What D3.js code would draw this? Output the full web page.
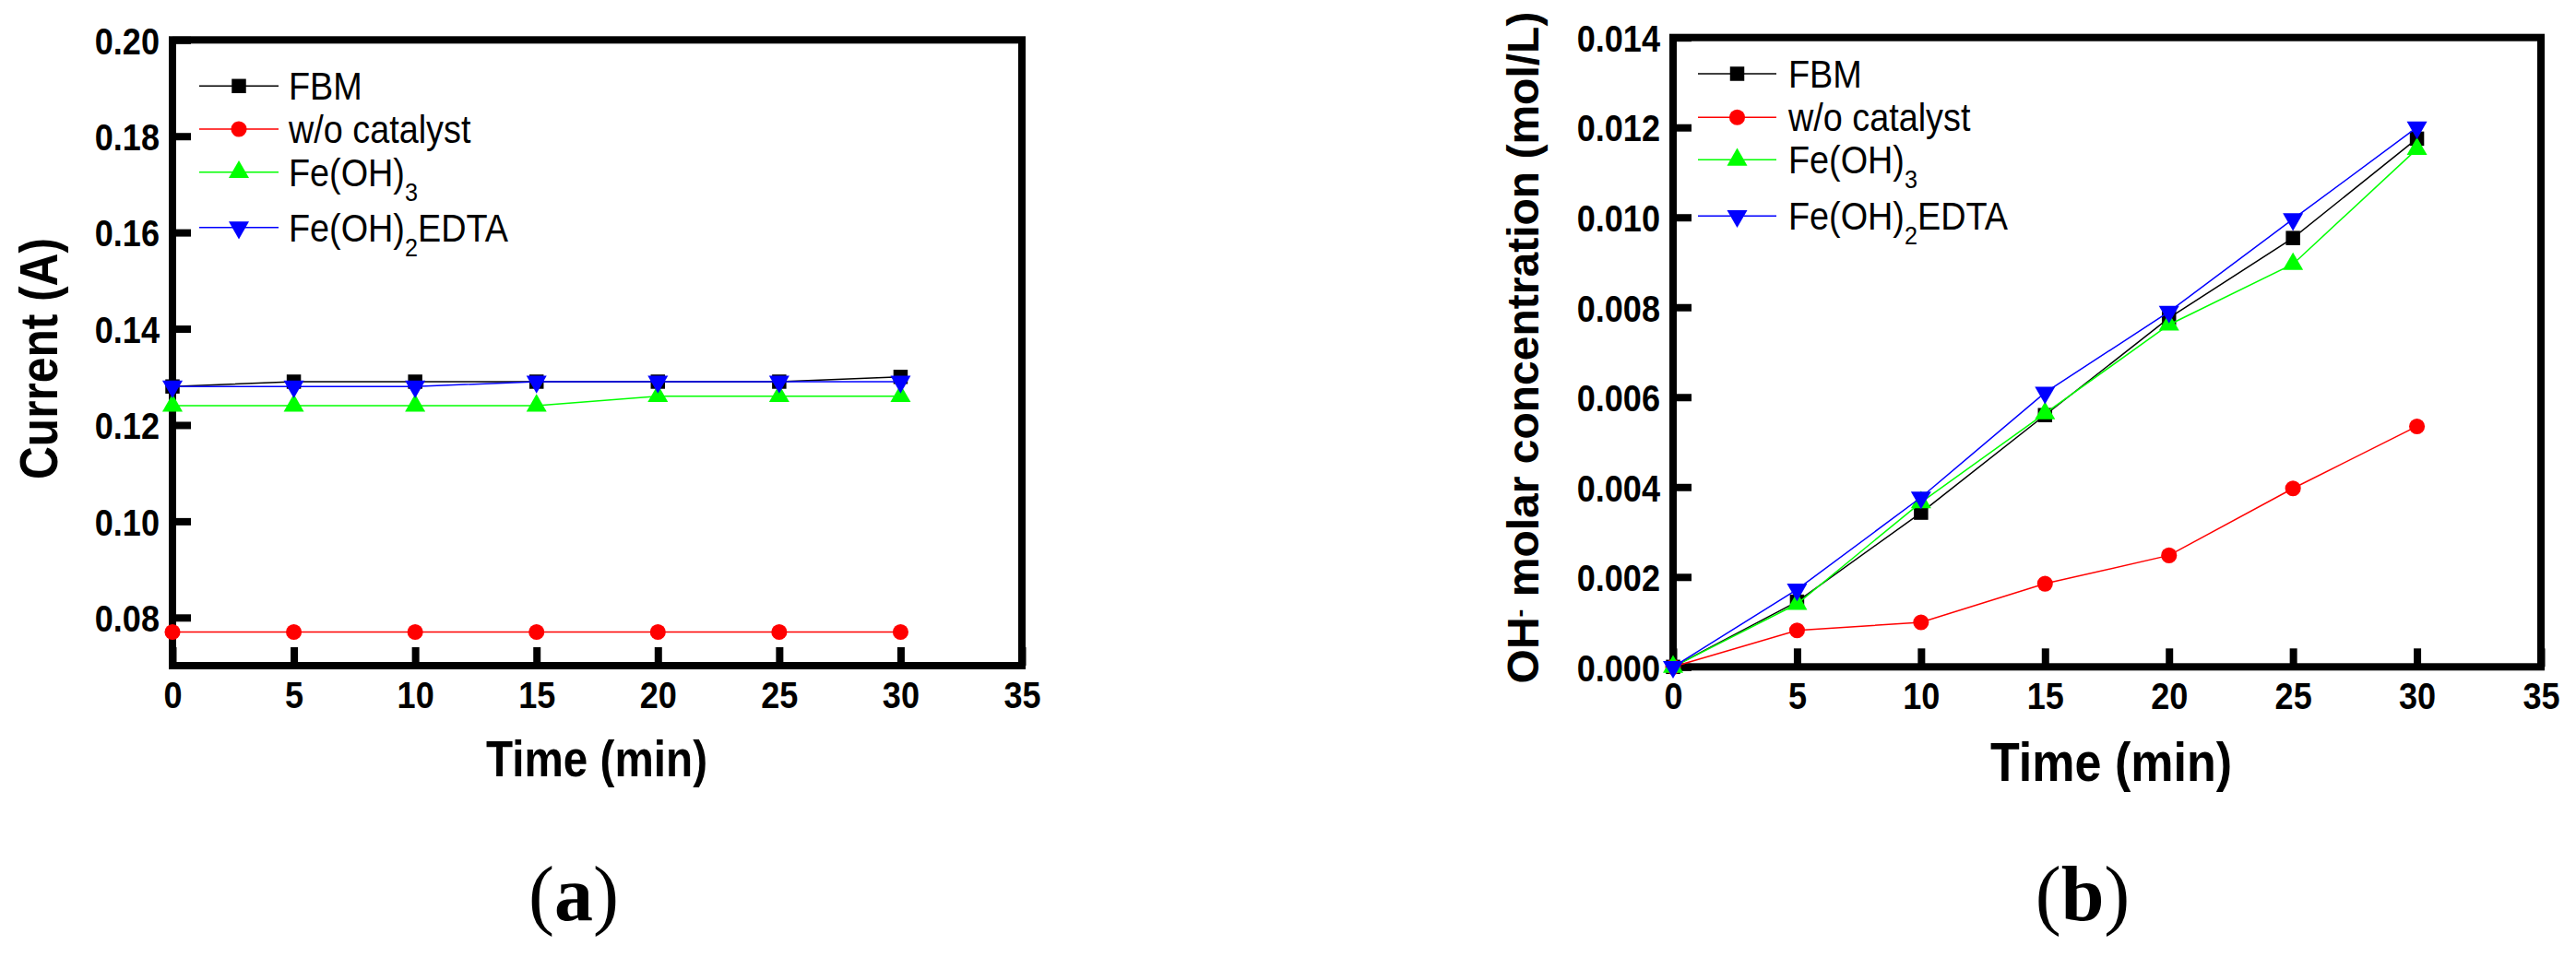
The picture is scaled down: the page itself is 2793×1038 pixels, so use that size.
<!DOCTYPE html>
<html>
<head>
<meta charset="utf-8">
<script src="https://cdn.jsdelivr.net/npm/d3@7"></script>
<style>
  body { margin: 0; background: #fff; }
  text { font-family: "Liberation Sans", Arial, sans-serif; }
</style>
</head>
<body>
<svg id="chart" width="2793" height="1038"></svg>
<script>
'use strict';

/***** DATA *****/
const TIME = [0, 5, 10, 15, 20, 25, 30];
const X_TICKS = [0, 5, 10, 15, 20, 25, 30, 35];
const SERIES_LABELS = ['FBM', 'w/o catalyst', 'Fe(OH)_3', 'Fe(OH)_2EDTA'];
const SERIES_COLORS = ['#000000', '#ff0000', '#00ff00', '#0000ff'];

// (a) current, A
const CURRENT_FBM   = [0.128, 0.129, 0.129, 0.129, 0.129, 0.129, 0.130];
const CURRENT_WO    = [0.077, 0.077, 0.077, 0.077, 0.077, 0.077, 0.077];
const CURRENT_FEOH3 = [0.124, 0.124, 0.124, 0.124, 0.126, 0.126, 0.126];
const CURRENT_EDTA  = [0.128, 0.128, 0.128, 0.129, 0.129, 0.129, 0.129];
const CURRENT_TICKS = [0.08, 0.10, 0.12, 0.14, 0.16, 0.18, 0.20];

// (b) OH- molar concentration, mol/L
const OH_FBM   = [0, 0.00145, 0.00343, 0.00560, 0.00776, 0.00954, 0.01175];
const OH_WO    = [0, 0.00081, 0.00099, 0.00185, 0.00248, 0.00397, 0.00535];
const OH_FEOH3 = [0, 0.00140, 0.00366, 0.00564, 0.00761, 0.00896, 0.01152];
const OH_EDTA  = [0, 0.00172, 0.00377, 0.00610, 0.00790, 0.00996, 0.01200];
const OH_TICKS = [0, 0.002, 0.004, 0.006, 0.008, 0.010, 0.012, 0.014];

/***** CHART *****/
const svg = d3.select('#chart');

const SYMBOLS = [
  d3.symbol().type(d3.symbolSquare).size(240),
  d3.symbol().type(d3.symbolCircle).size(230),
  d3.symbol().type(d3.symbolTriangle).size(210),
  d3.symbol().type(d3.symbolTriangle).size(210)
];
const ROTATE = [0, 0, 0, 180];

function labelParts(label) {
  // "Fe(OH)_2EDTA" -> [["Fe(OH)", false], ["2", true], ["EDTA", false]]
  const m = label.match(/^(.*?)_(\d)(.*)$/);
  if (!m) return [[label, false]];
  return [[m[1], false], [m[2], true], [m[3], false]].filter(p => p[0]);
}

// squeeze a single text node horizontally, like the narrow font of the original
function squeeze(sel, k) {
  sel.each(function() {
    const len = this.getComputedTextLength();
    d3.select(this).attr('textLength', len * k).attr('lengthAdjust', 'spacingAndGlyphs');
  });
}

function drawPanel(cfg) {
  const x = d3.scaleLinear().domain([0, 35]).range([cfg.left, cfg.right]);
  const y = d3.scaleLinear().domain(cfg.yDomain).range([cfg.bottom, cfg.top]);
  const g = svg.append('g');

  // axes with inward ticks
  const yAxis = g.append('g')
    .attr('transform', `translate(${cfg.left},0)`)
    .call(d3.axisLeft(y).tickValues(cfg.yTicks).tickFormat(d3.format(cfg.yFormat))
      .tickSizeInner(-20).tickSizeOuter(0).tickPadding(14));
  const xAxis = g.append('g')
    .attr('transform', `translate(0,${cfg.bottom})`)
    .call(d3.axisBottom(x).tickValues(X_TICKS)
      .tickSizeInner(-20).tickSizeOuter(0).tickPadding(30));

  [xAxis, yAxis].forEach(a => {
    a.select('.domain').remove();
    a.selectAll('.tick line').attr('stroke', '#000').attr('stroke-width', 8);
    a.selectAll('.tick text')
      .attr('fill', '#000')
      .style('font-size', '41px')
      .style('font-weight', 'bold')
      .call(squeeze, 0.88);
  });
  yAxis.selectAll('.tick text').attr('dy', '0.36em');
  xAxis.selectAll('.tick text').attr('y', 31).attr('dy', '0.36em');

  // frame
  g.append('rect')
    .attr('x', cfg.left).attr('y', cfg.top)
    .attr('width', cfg.right - cfg.left).attr('height', cfg.bottom - cfg.top)
    .attr('fill', 'none').attr('stroke', '#000').attr('stroke-width', 8);

  // series
  const line = d3.line().x((d, i) => x(TIME[i])).y(d => y(d));
  cfg.series.forEach((values, k) => {
    g.append('path')
      .attr('d', line(values))
      .attr('fill', 'none')
      .attr('stroke', SERIES_COLORS[k])
      .attr('stroke-width', 1.5);
    g.selectAll(null).data(values).enter().append('path')
      .attr('d', SYMBOLS[k])
      .attr('transform', (d, i) => `translate(${x(TIME[i])},${y(d)}) rotate(${ROTATE[k]})`)
      .attr('fill', SERIES_COLORS[k]);
  });

  // legend
  const lg = cfg.legend;
  SERIES_LABELS.forEach((label, k) => {
    const ry = lg.rows[k];
    g.append('line')
      .attr('x1', lg.x1).attr('x2', lg.x2).attr('y1', ry).attr('y2', ry)
      .attr('stroke', SERIES_COLORS[k]).attr('stroke-width', 1.5);
    g.append('path')
      .attr('d', SYMBOLS[k])
      .attr('transform', `translate(${(lg.x1 + lg.x2) / 2},${ry}) rotate(${ROTATE[k]})`)
      .attr('fill', SERIES_COLORS[k]);
    const t = g.append('text')
      .attr('transform', `translate(${lg.textX},${ry + 15}) scale(0.9,1)`)
      .style('font-size', '42px');
    let shifted = false;
    labelParts(label).forEach(([s, sub]) => {
      const ts = t.append('tspan').text(s);
      if (sub) {
        ts.attr('dy', 16).style('font-size', '28px');
        shifted = true;
      } else if (shifted) {
        ts.attr('dy', -16);
        shifted = false;
      }
    });
  });

  // x title
  g.append('text')
    .attr('x', cfg.xTitle.x).attr('y', cfg.xTitle.y)
    .attr('text-anchor', 'middle')
    .attr('textLength', cfg.xTitle.len).attr('lengthAdjust', 'spacingAndGlyphs')
    .style('font-size', cfg.xTitle.size + 'px').style('font-weight', 'bold')
    .text('Time (min)');

  // y title
  const yt = g.append('text')
    .attr('transform', `translate(${cfg.yTitle.x},${cfg.yTitle.y}) rotate(-90)`)
    .attr('text-anchor', 'middle')
    .style('font-size', cfg.yTitle.size + 'px').style('font-weight', 'bold');
  cfg.yTitle.parts.forEach(([s, sup]) => {
    const ts = yt.append('tspan').text(s);
    if (sup === 1) ts.attr('dy', '-0.45em').style('font-size', '0.55em');
    if (sup === -1) ts.attr('dy', '0.25em');
  });
  if (cfg.yTitle.len) yt.attr('textLength', cfg.yTitle.len).attr('lengthAdjust', 'spacingAndGlyphs');

  // panel label
  const pl = g.append('text')
    .attr('x', cfg.tag.x).attr('y', cfg.tag.y)
    .attr('text-anchor', 'middle')
    .style('font-family', '"Liberation Serif", "Times New Roman", serif')
    .style('font-size', '84px');
  pl.append('tspan').text('(');
  pl.append('tspan').style('font-weight', 'bold').text(cfg.tag.letter);
  pl.append('tspan').text(')');
}

drawPanel({
  left: 187, right: 1108, top: 43.3, bottom: 722,
  yDomain: [0.07, 0.20], yTicks: CURRENT_TICKS, yFormat: '.2f',
  series: [CURRENT_FBM, CURRENT_WO, CURRENT_FEOH3, CURRENT_EDTA],
  legend: { x1: 216, x2: 302, textX: 313, rows: [93.3, 140, 186.7, 246.7] },
  xTitle: { x: 647, y: 842, size: 56, len: 240 },
  yTitle: { x: 62, y: 389, size: 57, len: 262, parts: [['Current (A)', 0]] },
  tag: { x: 622, y: 998, letter: 'a' }
});

drawPanel({
  left: 1814, right: 2755, top: 40.7, bottom: 723.3,
  yDomain: [0, 0.014], yTicks: OH_TICKS, yFormat: '.3f',
  series: [OH_FBM, OH_WO, OH_FEOH3, OH_EDTA],
  legend: { x1: 1841, x2: 1926, textX: 1939, rows: [80, 127.3, 173.3, 234.3] },
  xTitle: { x: 2289, y: 847, size: 60, len: 262 },
  yTitle: { x: 1668, y: 377, size: 48, len: 0,
            parts: [['OH', 0], ['-', 1], [' molar concentration (mol/L)', -1]] },
  tag: { x: 2258, y: 998, letter: 'b' }
});
</script>
</body>
</html>
